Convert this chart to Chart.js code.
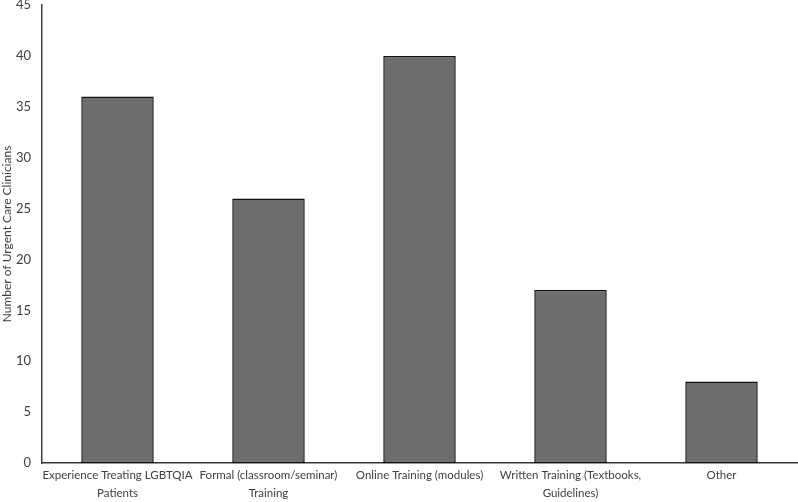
<!DOCTYPE html>
<html>
<head>
<meta charset="utf-8">
<script src="https://cdn.jsdelivr.net/npm/chart.js@4"></script>
<style>
html,body{margin:0;padding:0;background:#fff;}
#wrap{width:798px;height:502px;}
</style>
</head>
<body>
<div id="wrap"><canvas id="c" width="798" height="502"></canvas></div>
<script>
const categories = [
  ["Experience Treating LGBTQIA", "Patients"],
  ["Formal (classroom/seminar)", "Training"],
  ["Online Training (modules)"],
  ["Written Training (Textbooks,", "Guidelines)"],
  ["Other"]
];
const clinicians = [36, 26, 40, 17, 8];
const yTitle = "Number of Urgent Care Clinicians";

const fontFam = "Lato, 'Open Sans', sans-serif";
new Chart(document.getElementById('c'), {
  type: 'bar',
  data: {
    labels: categories,
    datasets: [{
      data: clinicians,
      backgroundColor: '#6d6d6d',
      borderColor: '#111111',
      borderWidth: 1.5,
      borderSkipped: false,
      categoryPercentage: 1,
      barPercentage: 0.48
    }]
  },
  options: {
    responsive: false,
    animation: false,
    layout: { padding: { top: 5, right: 1, left: 0, bottom: 0 } },
    plugins: { legend: { display: false }, tooltip: { enabled: false } },
    scales: {
      x: {
        grid: { display: false, drawTicks: false },
        border: { display: true, color: '#333333', width: 1.5 },
        ticks: { color: '#404040', font: { family: fontFam, size: 11.5, lineHeight: 1.5 }, maxRotation: 0, autoSkip: false, padding: 4 },
        afterFit: s => { s.height = 39; s.paddingLeft = 0; s.paddingRight = 0; }
      },
      y: {
        min: 0, max: 45,
        grid: { display: false, drawTicks: false },
        border: { display: true, color: '#404040', width: 1.5 },
        ticks: { stepSize: 5, color: '#404040', font: { family: fontFam, size: 13 }, padding: 11 },
        title: { display: true, text: yTitle, color: '#404040', font: { family: fontFam, size: 12 }, padding: 0 },
        afterFit: s => { s.width = 42; s.paddingTop = 0; s.paddingBottom = 0; }
      }
    }
  }
});
</script>
</body>
</html>
